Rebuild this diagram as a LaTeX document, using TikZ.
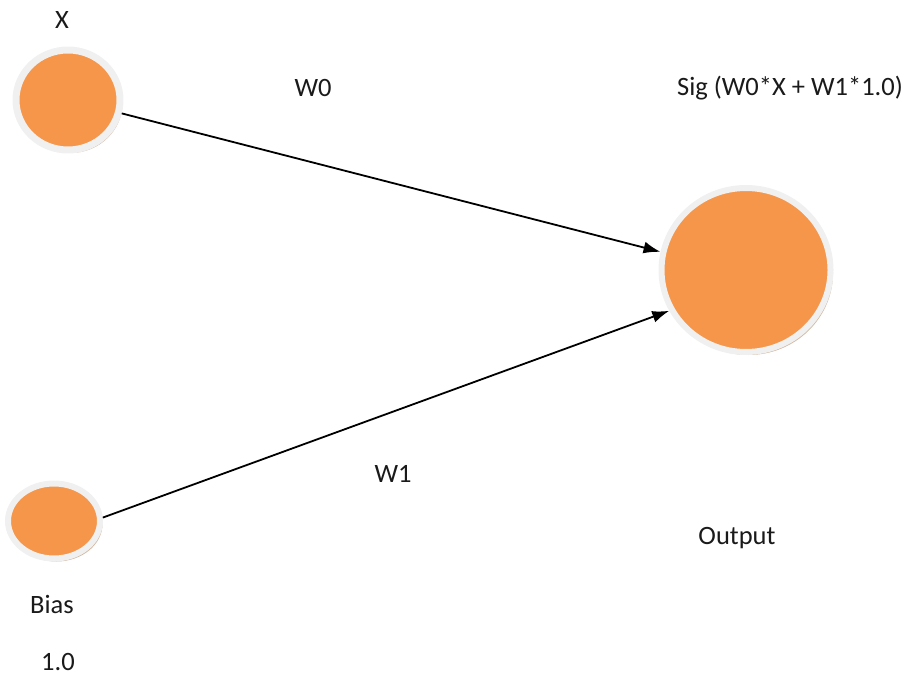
\documentclass[tikz,border=0pt]{standalone}
\usepackage{fontspec}
\setmainfont{Carlito}
\usetikzlibrary{shapes.geometric,shadows,arrows.meta}
\definecolor{nodeorange}{HTML}{F5964A}
\definecolor{ringgray}{HTML}{F0F0F0}
\definecolor{shadowbrown}{HTML}{C9A78A}
\definecolor{txt}{HTML}{1A1A1A}
\tikzset{
  neuron/.style={ellipse, inner sep=0pt, fill=nodeorange, draw=ringgray,
    drop shadow={shadow xshift=2.5pt, shadow yshift=-3pt, fill=shadowbrown, opacity=0.8}},
  lbl/.style={text=txt, font=\fontsize{26.5}{31}\selectfont, inner sep=0pt},
  conn/.style={line width=1.8pt, -{Latex[length=17pt,width=12pt]}}
}
\begin{document}
\begin{tikzpicture}[x=1pt,y=1pt]
\useasboundingbox (0,0) rectangle (917,681);
\node[neuron, minimum width=104pt, minimum height=100pt, line width=7pt] (X) at (68,581) {};
\node[neuron, minimum width=169pt, minimum height=164pt, line width=6pt] (Out) at (746,411) {};
\node[neuron, minimum width=92pt, minimum height=75pt, line width=6pt] (B) at (54,160) {};
\draw[conn] (X.-14) -- (Out.168);
\draw[conn] (B.4) -- (Out.208);
\node[lbl] (lx) at (62,661) {X};
\node[lbl] (lw0) at (313,593) {W0};
\node[lbl] (lsig) at (790,593) {Sig (W0*X + W1*1.0)};
\node[lbl] (lw1) at (393,207) {W1};
\node[lbl] (lout) at (737,143) {Output};
\node[lbl] (lbias) at (52,77) {Bias};
\node[lbl] (lone) at (58,19) {1.0};
\end{tikzpicture}
\end{document}
